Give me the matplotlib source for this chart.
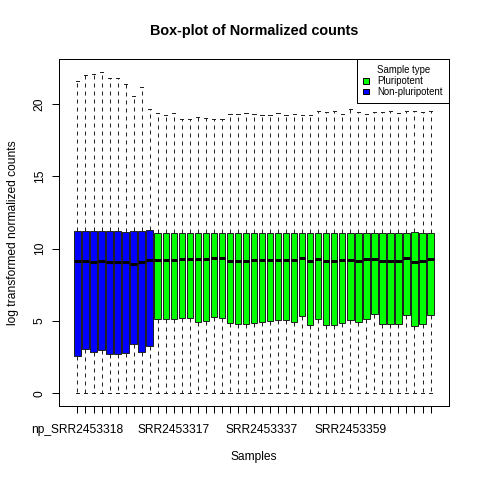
import matplotlib
matplotlib.use("Agg")
import matplotlib.pyplot as plt
from matplotlib.patches import Patch

plt.rcParams['font.family'] = ['Liberation Sans', 'DejaVu Sans']

# ---- data ----
groups = ["Non-pluripotent"] * 10 + ["Pluripotent"] * 35
group_colors = {"Pluripotent": "#00FF00", "Non-pluripotent": "#0000FF"}

q1 = [2.60, 3.04, 2.85, 2.99, 2.72, 2.72, 2.76, 3.41, 2.88, 3.27,
      5.16, 5.11, 5.16, 5.20, 5.18, 4.93, 5.00, 5.25, 5.20, 4.84,
      4.81, 4.79, 4.85, 4.95, 5.00, 5.07, 5.04, 4.90, 5.32, 4.70,
      5.11, 4.70, 4.70, 4.84, 5.07, 4.95, 5.13, 5.46, 4.77, 4.79,
      4.77, 5.41, 4.63, 4.77, 5.39]
medians = [9.12, 9.12, 9.10, 9.14, 9.07, 9.07, 9.05, 8.96, 9.10, 9.24,
           9.24, 9.24, 9.24, 9.30, 9.30, 9.26, 9.26, 9.33, 9.33, 9.17,
           9.17, 9.17, 9.20, 9.21, 9.21, 9.21, 9.21, 9.21, 9.35, 9.14,
           9.28, 9.17, 9.17, 9.21, 9.24, 9.17, 9.28, 9.28, 9.17, 9.17,
           9.17, 9.33, 9.10, 9.12, 9.26]
q3 = [11.24, 11.24, 11.24, 11.24, 11.24, 11.24, 11.13, 11.24, 11.24, 11.29,
      11.06, 11.06, 11.06, 11.06, 11.06, 11.06, 11.06, 11.06, 11.06, 11.06,
      11.06, 11.06, 11.06, 11.06, 11.06, 11.06, 11.06, 11.06, 11.06, 11.06,
      11.06, 11.06, 11.06, 11.06, 11.06, 11.06, 11.06, 11.06, 11.06, 11.06,
      11.06, 11.10, 11.13, 11.06, 11.06]
whisker_low = [0.0] * 45
whisker_high = [21.60, 22.00, 22.05, 22.23, 21.77, 21.77, 21.35, 20.55, 21.19, 19.67,
                19.35, 19.21, 19.35, 18.94, 18.94, 19.07, 19.05, 18.96, 18.96, 19.30,
                19.30, 19.35, 19.30, 19.23, 19.23, 19.35, 19.25, 19.32, 19.25, 19.23,
                19.51, 19.45, 19.51, 19.30, 19.65, 19.42, 19.30, 19.42, 19.42, 19.53,
                19.35, 19.53, 19.53, 19.46, 19.53]

label_positions = [1, 13, 24, 35]
label_texts = ["np_SRR2453318", "SRR2453317", "SRR2453337", "SRR2453359"]

yticks = [0, 5, 10, 15, 20]

# ---- figure ----
W = H = 480
fig = plt.figure(figsize=(4.8, 4.8), dpi=100)
left, right, top, bottom = 59, 449, 59.2, 406.2
ax = fig.add_axes([left / W, 1 - bottom / H, (right - left) / W, (bottom - top) / H])

n = len(medians)
positions = list(range(1, n + 1))
stats = []
for i in range(n):
    stats.append(dict(med=medians[i], q1=q1[i], q3=q3[i],
                      whislo=whisker_low[i], whishi=whisker_high[i], fliers=[]))

px = 0.72  # one pixel in points at dpi 100
bp = ax.bxp(stats, positions=positions, widths=0.8, patch_artist=True,
            showfliers=False, manage_ticks=False, capwidths=0.4,
            boxprops=dict(edgecolor="#222222", linewidth=px),
            whiskerprops=dict(color="#222222", linewidth=px, linestyle=(0, (4, 4))),
            capprops=dict(color="#222222", linewidth=px),
            medianprops=dict(color="black", linewidth=3 * px, solid_capstyle="butt"))
for patch, g in zip(bp["boxes"], groups):
    patch.set_facecolor(group_colors[g])

ax.set_xlim(-1.3, 47.3)
ax.set_ylim(-0.89, 23.09)

for s in ax.spines.values():
    s.set_linewidth(px)
    s.set_color("black")

ax.set_xticks(positions)
xlabels = [""] * n
for p, t in zip(label_positions, label_texts):
    xlabels[p - 1] = t
ax.set_xticklabels(xlabels)
ax.set_yticks(yticks)
ax.set_yticklabels([str(v) for v in yticks], rotation=90, va="center")
ax.tick_params(axis="both", direction="out", length=7.2 * px, width=px,
               labelsize=12 * px, colors="black")
ax.tick_params(axis="x", pad=7.5)
ax.tick_params(axis="y", pad=4.3)

ax.set_xlabel("Samples", fontsize=12 * px, va="center")
ax.xaxis.set_label_coords(0.5, (bottom - 456.7) / (bottom - top))
ax.set_ylabel("log transformed normalized counts", fontsize=12 * px, va="center", ha="center")
ax.yaxis.set_label_coords((13.3 - left) / (right - left), 0.5)

ax.set_title("Box-plot of Normalized counts", fontsize=14.4 * px, fontweight="bold",
             y=(bottom - 31) / (bottom - top), va="center", pad=0)

handles = [Patch(facecolor=group_colors["Pluripotent"], edgecolor="black", linewidth=px),
           Patch(facecolor=group_colors["Non-pluripotent"], edgecolor="black", linewidth=px)]
leg = ax.legend(handles, ["Pluripotent", "Non-pluripotent"], title="Sample type",
                loc="upper right", bbox_to_anchor=(1, 1), borderaxespad=0,
                fontsize=9.6 * px, title_fontsize=9.6 * px, frameon=True,
                fancybox=False, framealpha=1, edgecolor="black",
                handlelength=0.55, handleheight=0.55, handletextpad=0.94,
                labelspacing=0.1, borderpad=0.61)
leg.get_frame().set_linewidth(px)

fig.savefig("out.png", dpi=100)
